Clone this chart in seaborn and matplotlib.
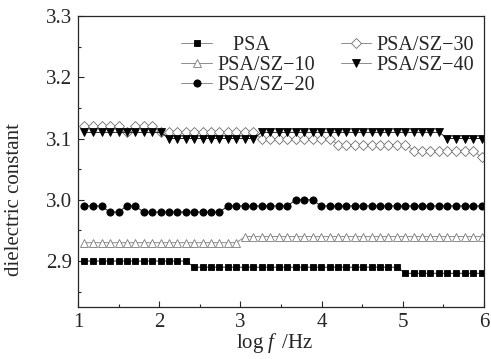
import numpy as np
import pandas as pd
import matplotlib
matplotlib.use("Agg")
import matplotlib.pyplot as plt
import seaborn as sns
from matplotlib.ticker import MultipleLocator

# log f values (48 measuring points)
log_f = [1.08, 1.18, 1.29, 1.39, 1.50, 1.60, 1.70, 1.81, 1.91, 2.02,
         2.12, 2.22, 2.33, 2.43, 2.54, 2.64, 2.74, 2.85, 2.95, 3.06,
         3.16, 3.26, 3.37, 3.47, 3.58, 3.68, 3.78, 3.89, 3.99, 4.10,
         4.20, 4.30, 4.41, 4.51, 4.62, 4.72, 4.82, 4.93, 5.03, 5.14,
         5.24, 5.34, 5.45, 5.55, 5.66, 5.76, 5.86, 5.97]

psa = [2.90] * 13 + [2.89] * 25 + [2.88] * 10
sz10 = [2.93] * 19 + [2.94] * 29
sz20 = ([2.99] * 3 + [2.98] * 2 + [2.99] * 2 + [2.98] * 10 + [2.99] * 8
        + [3.00] * 3 + [2.99] * 20)
sz30 = ([3.12] * 5 + [3.11] + [3.12] * 3 + [3.11] * 12 + [3.10] * 9
        + [3.09] * 9 + [3.08] * 8 + [3.07])
sz40 = [3.11] * 10 + [3.10] * 11 + [3.11] * 22 + [3.10] * 5

labels = ["   PSA", "PSA/SZ\u221210", "PSA/SZ\u221220", "PSA/SZ\u221230", "PSA/SZ\u221240"]

sns.set_style("ticks")
plt.rcParams["font.family"] = ["Liberation Serif", "DejaVu Serif"]
plt.rcParams["mathtext.fontset"] = "custom"
plt.rcParams["mathtext.rm"] = "Liberation Serif"
plt.rcParams["mathtext.it"] = "Liberation Serif:italic"

fig = plt.figure(figsize=(4.91, 3.59), dpi=100)
ax = fig.add_axes([78 / 491, 1 - 307 / 359, 406 / 491, 291 / 359])

# style for each series: marker, line colour, face colour, edge colour, size
styles = [
    dict(marker="s", color="#202020", markerfacecolor="black", markeredgecolor="black", markersize=4.3),
    dict(marker="^", color="#8c8c8c", markerfacecolor="white", markeredgecolor="#7a7a7a", markersize=5.5),
    dict(marker="o", color="#202020", markerfacecolor="black", markeredgecolor="black", markersize=5.2),
    dict(marker="D", color="#8c8c8c", markerfacecolor="white", markeredgecolor="#6e6e6e", markersize=4.6),
    dict(marker="v", color="#202020", markerfacecolor="black", markeredgecolor="black", markersize=5.8),
]

for vals, lab, st in zip([psa, sz10, sz20, sz30, sz40], labels, styles):
    sns.lineplot(x=log_f, y=vals, ax=ax, label=lab, linewidth=0.7,
                 markeredgewidth=0.6, **st)

ax.set_xlim(1, 6)
ax.set_ylim(2.825, 3.3)
ax.xaxis.set_major_locator(MultipleLocator(1))
ax.xaxis.set_minor_locator(MultipleLocator(0.5))
ax.yaxis.set_major_locator(MultipleLocator(0.1))
ax.yaxis.set_minor_locator(MultipleLocator(0.05))
ax.yaxis.set_major_formatter(matplotlib.ticker.FormatStrFormatter("%.1f"))
ax.tick_params(which="both", direction="in", labelsize=15, width=0.8)
ax.tick_params(which="major", length=4, pad=4)
ax.tick_params(which="minor", length=2.5)
for s in ax.spines.values():
    s.set_linewidth(0.9)

ax.set_xlabel(r"log $f\,$ /Hz", fontsize=15)
ax.set_ylabel("dielectric constant", fontsize=15)
ax.xaxis.set_label_coords(0.485, -0.083)
ax.yaxis.set_label_coords(-0.132, 0.37)

leg = ax.legend(ncol=2, loc="upper left", bbox_to_anchor=(0.235, 0.96), frameon=False,
                fontsize=14.5, handlelength=1.5, handletextpad=0.3, labelspacing=0.05,
                columnspacing=1.25, borderaxespad=0)
for h in leg.get_lines():
    h.set_color("#8c8c8c")

fig.savefig("out.png", dpi=100)
